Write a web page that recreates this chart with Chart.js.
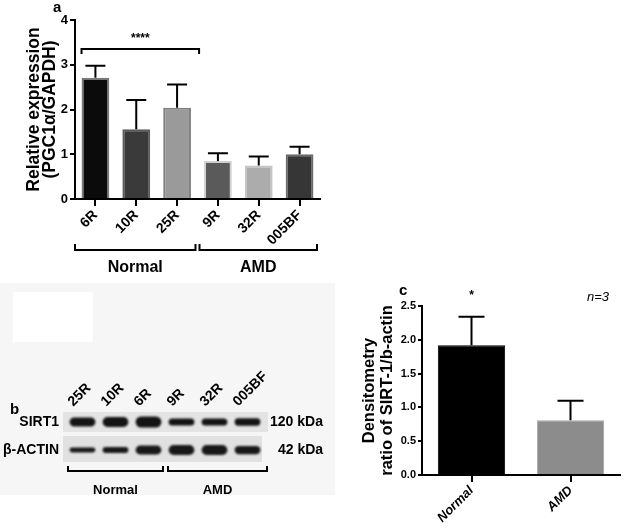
<!DOCTYPE html>
<html>
<head>
<meta charset="utf-8">
<script src="https://cdn.jsdelivr.net/npm/chart.js@4.4.1/dist/chart.umd.min.js"></script>
<style>
body{margin:0;background:#fff;width:638px;height:531px;position:relative;overflow:hidden;font-family:"Liberation Sans",Arial,sans-serif}
canvas{position:absolute}
.bg{position:absolute}
</style>
</head>
<body>
<div class="bg" style="left:0;top:283px;width:335px;height:212px;background:#f6f6f6"></div>
<div class="bg" style="left:13px;top:292px;width:80px;height:50px;background:#fff"></div>
<canvas id="chartA" width="330" height="290" style="left:0;top:0"></canvas>
<canvas id="chartB" width="340" height="130" style="left:0;top:370px"></canvas>
<canvas id="chartC" width="286" height="251" style="left:352px;top:280px"></canvas>
<script>
// panel a - PGC1a qPCR
const sampleLabels = ['6R', '10R', '25R', '9R', '32R', '005BF'];
const pgcMean = [2.71, 1.56, 2.04, 0.85, 0.75, 1.00];
const pgcSem = [0.27, 0.65, 0.52, 0.17, 0.20, 0.17];
const barFill = ['#0b0b0b', '#3a3a3a', '#9a9a9a', '#5a5a5a', '#acacac', '#363636'];
const barEdge = ['#7a7a7a', '#5c5c5c', '#808080', '#d0d0d0', '#c4c4c4', '#6a6a6a'];
const groupNames = ['Normal', 'AMD'];
const groupSizes = [3, 3];

// panel b - western blot band intensities (relative)
const laneLabels = ['25R', '10R', '6R', '9R', '32R', '005BF'];
const sirt1Band = [0.82, 0.9, 1.0, 0.64, 0.64, 0.66];
const actinBand = [0.45, 0.55, 0.8, 0.92, 0.92, 0.75];

// panel c - densitometry
const cLabels = ['Normal', 'AMD'];
const sirtMean = [1.92, 0.81];
const sirtSem = [0.42, 0.29];

Chart.defaults.font.family = '"Liberation Sans", Arial, sans-serif';
Chart.defaults.color = '#000';
Chart.defaults.animation = false;

const errorBars = {
    id: 'errorBars',
    afterDatasetsDraw(chart, args, opts) {
        if (!opts.sem) return;
        const ctx = chart.ctx;
        const y = chart.scales.y;
        const meta = chart.getDatasetMeta(0);
        const values = chart.data.datasets[0].data;
        ctx.save();
        ctx.strokeStyle = '#000';
        ctx.lineWidth = 2;
        meta.data.forEach((bar, i) => {
            const top = y.getPixelForValue(values[i] + opts.sem[i]);
            ctx.beginPath();
            ctx.moveTo(bar.x, bar.y);
            ctx.lineTo(bar.x, top);
            ctx.moveTo(bar.x - opts.cap / 2, top);
            ctx.lineTo(bar.x + opts.cap / 2, top);
            ctx.stroke();
        });
        ctx.restore();
    }
};

function bracket(ctx, x1, x2, y, h) {
    ctx.beginPath();
    ctx.moveTo(x1, y - h);
    ctx.lineTo(x1, y);
    ctx.lineTo(x2, y);
    ctx.lineTo(x2, y - h);
    ctx.stroke();
}

const panelA = {
    id: 'panelA',
    afterDraw(chart) {
        const ctx = chart.ctx;
        const x = chart.scales.x;
        const y = chart.scales.y;
        const meta = chart.getDatasetMeta(0);
        ctx.save();
        ctx.fillStyle = '#000';
        ctx.strokeStyle = '#000';
        ctx.lineWidth = 2;
        ctx.font = 'bold 15px "Liberation Sans"';
        ctx.textAlign = 'left';
        ctx.textBaseline = 'middle';
        ctx.fillText('a', 53, 8);

        // significance bar over the normal samples
        const b0 = meta.data[0];
        const sx1 = b0.x - b0.width / 2;
        const sx2 = meta.data[2].x + 22;
        const sy = y.getPixelForValue(3.35);
        ctx.beginPath();
        ctx.moveTo(sx1, sy + 5);
        ctx.lineTo(sx1, sy);
        ctx.lineTo(sx2, sy);
        ctx.lineTo(sx2, sy + 5);
        ctx.stroke();
        ctx.font = 'bold 12px "Liberation Sans"';
        ctx.textAlign = 'center';
        ctx.fillText('****', (sx1 + sx2) / 2, sy - 10);

        // group brackets
        let start = 0;
        const by = 250;
        ctx.font = 'bold 16px "Liberation Sans"';
        groupNames.forEach((g, k) => {
            const end = start + groupSizes[k] - 1;
            const left = k === 0 ? x.left : (x.getPixelForValue(start) + x.getPixelForValue(start - 1)) / 2 + 2;
            const right = k === groupNames.length - 1 ? x.right - 3 :
                (x.getPixelForValue(end) + x.getPixelForValue(end + 1)) / 2 - 2;
            bracket(ctx, left, right, by, 6);
            ctx.fillText(g, (left + right) / 2, by + 18);
            start = end + 1;
        });
        ctx.restore();
    }
};

new Chart(document.getElementById('chartA'), {
    type: 'bar',
    data: {
        labels: sampleLabels,
        datasets: [{
            data: pgcMean,
            backgroundColor: barFill,
            borderColor: barEdge,
            borderWidth: 2,
            borderSkipped: 'bottom',
            barPercentage: 0.68,
            categoryPercentage: 1
        }]
    },
    options: {
        responsive: false,
        layout: { padding: { top: 20, right: 10, left: 0, bottom: 0 } },
        plugins: {
            legend: { display: false },
            tooltip: { enabled: false },
            errorBars: { sem: pgcSem, cap: 20 }
        },
        scales: {
            x: {
                afterFit: s => { s.height = 91; },
                grid: { offset: false, drawOnChartArea: false, color: '#000', lineWidth: 2, tickLength: 7 },
                border: { color: '#000', width: 2 },
                ticks: { minRotation: 45, maxRotation: 45, padding: 1, font: { size: 14, weight: 'bold' } }
            },
            y: {
                min: 0, max: 4,
                afterFit: s => { s.width = 75; },
                grid: { drawOnChartArea: false, color: '#000', lineWidth: 2, tickLength: 5 },
                border: { color: '#000', width: 2 },
                ticks: { stepSize: 1, padding: 2, font: { size: 13, weight: 'bold' } },
                title: {
                    display: true,
                    text: ['Relative expression', '(PGC1\u03b1/GAPDH)'],
                    font: { size: 17.5, weight: 'bold', lineHeight: 0.92 },
                    padding: { top: 26, bottom: 0 }
                }
            }
        }
    },
    plugins: [errorBars, panelA]
});

// panel b
const blotStyle = {
    id: 'blotStyle',
    beforeDatasetsDraw(chart) {
        const ctx = chart.ctx;
        const a = chart.chartArea;
        const y = chart.scales.y;
        ctx.save();
        ctx.fillStyle = '#e4e4e4';
        ctx.fillRect(a.left - 3, y.getPixelForValue(10), a.right - a.left + 7, y.getPixelForValue(6) - y.getPixelForValue(10));
        ctx.fillStyle = '#e1e1e1';
        ctx.fillRect(a.left - 3, y.getPixelForValue(5.2), a.right - a.left + 1, y.getPixelForValue(0) - y.getPixelForValue(5.2));
        ctx.restore();
        ctx.save();
        ctx.filter = 'blur(1.1px)';
    },
    afterDatasetsDraw(chart) {
        const ctx = chart.ctx;
        ctx.restore();
        const y = chart.scales.y;
        const x = chart.scales.x;
        ctx.save();
        ctx.fillStyle = '#000';
        ctx.strokeStyle = '#000';
        ctx.lineWidth = 2;
        ctx.textBaseline = 'middle';
        ctx.font = 'bold 15px "Liberation Sans"';
        ctx.textAlign = 'left';
        ctx.fillText('b', 10, 40);
        ctx.font = 'bold 14px "Liberation Sans"';
        ctx.textAlign = 'right';
        ctx.fillText('SIRT1', 59, y.getPixelForValue(8));
        ctx.fillText('\u03b2-ACTIN', 59, y.getPixelForValue(2.4));
        ctx.textAlign = 'left';
        ctx.fillText('120 kDa', 270, y.getPixelForValue(8));
        ctx.fillText('42 kDa', 278, y.getPixelForValue(2.4));

        let start = 0;
        const by = chart.chartArea.bottom + 9;
        ctx.textAlign = 'center';
        ctx.font = 'bold 13px "Liberation Sans Narrow", "Liberation Sans"';
        groupNames.forEach((g, k) => {
            const end = start + groupSizes[k] - 1;
            const left = k === 0 ? x.left + 2 : (x.getPixelForValue(start) + x.getPixelForValue(start - 1)) / 2 + 3;
            const right = k === groupNames.length - 1 ? x.right + 3 :
                (x.getPixelForValue(end) + x.getPixelForValue(end + 1)) / 2 - 2;
            bracket(ctx, left, right, by, 5);
            ctx.fillText(g, (left + right) / 2, by + 19);
            start = end + 1;
        });
        ctx.restore();
    }
};

const sirtRow = 8, actinRow = 2.4, bandHalf = 1.1;
new Chart(document.getElementById('chartB'), {
    type: 'bar',
    data: {
        labels: laneLabels,
        datasets: [
            { data: sirt1Band.map(v => [sirtRow - v * bandHalf, sirtRow + v * bandHalf]), backgroundColor: '#141414' },
            { data: actinBand.map(v => [actinRow - v * bandHalf, actinRow + v * bandHalf]), backgroundColor: '#181818' }
        ]
    },
    options: {
        responsive: false,
        layout: { padding: { top: 0, left: 66, right: 76, bottom: 38 } },
        datasets: {
            bar: {
                grouped: false,
                borderSkipped: false,
                borderRadius: 6,
                barPercentage: 0.78,
                categoryPercentage: 1
            }
        },
        plugins: { legend: { display: false }, tooltip: { enabled: false } },
        scales: {
            x: {
                position: 'top',
                afterFit: s => { s.height = 42; },
                grid: { display: false },
                border: { display: false },
                ticks: { minRotation: 45, maxRotation: 45, padding: -6, font: { size: 14, weight: 'bold' } }
            },
            y: { display: false, min: 0, max: 10 }
        }
    },
    plugins: [blotStyle]
});

// panel c
const panelC = {
    id: 'panelC',
    afterDraw(chart) {
        const ctx = chart.ctx;
        const meta = chart.getDatasetMeta(0);
        ctx.save();
        ctx.fillStyle = '#000';
        ctx.textBaseline = 'middle';
        ctx.font = 'bold 15px "Liberation Sans"';
        ctx.textAlign = 'left';
        ctx.fillText('c', 47, 11);
        ctx.font = 'bold 12px "Liberation Sans"';
        ctx.textAlign = 'center';
        ctx.fillText('*', meta.data[0].x, 16);
        ctx.font = 'italic 13px "Liberation Sans Narrow", "Liberation Sans"';
        ctx.fillText('n=3', 246, 17);
        ctx.restore();
    }
};

new Chart(document.getElementById('chartC'), {
    type: 'bar',
    data: {
        labels: cLabels,
        datasets: [{
            data: sirtMean,
            backgroundColor: ['#000000', '#8c8c8c'],
            borderColor: ['#000000', '#a8a8a8'],
            borderWidth: 1,
            borderSkipped: 'bottom',
            barPercentage: 0.68,
            categoryPercentage: 1
        }]
    },
    options: {
        responsive: false,
        layout: { padding: { top: 26, right: 18, left: 0, bottom: 0 } },
        plugins: {
            legend: { display: false },
            tooltip: { enabled: false },
            errorBars: { sem: sirtSem, cap: 26 }
        },
        scales: {
            x: {
                afterFit: s => { s.height = 56; },
                grid: { offset: false, drawOnChartArea: false, color: '#000', lineWidth: 2, tickLength: 7 },
                border: { color: '#000', width: 2 },
                ticks: { minRotation: 45, maxRotation: 45, padding: 1, font: { size: 13, weight: 'bold', style: 'italic' } }
            },
            y: {
                min: 0, max: 2.5,
                afterFit: s => { s.width = 70; },
                grid: { drawOnChartArea: false, color: '#000', lineWidth: 2, tickLength: 4 },
                border: { color: '#000', width: 2 },
                ticks: {
                    stepSize: 0.5, padding: 2,
                    font: { size: 11, weight: 'bold', family: '"Liberation Sans Narrow", "Liberation Sans"' },
                    callback: v => v.toFixed(1)
                },
                title: {
                    display: true,
                    text: ['Densitometry', 'ratio of SIRT-1/b-actin'],
                    font: { size: 16.5, weight: 'bold', lineHeight: 1.09 },
                    padding: { top: 8, bottom: 0 }
                }
            }
        }
    },
    plugins: [errorBars, panelC]
});
</script>
</body>
</html>
